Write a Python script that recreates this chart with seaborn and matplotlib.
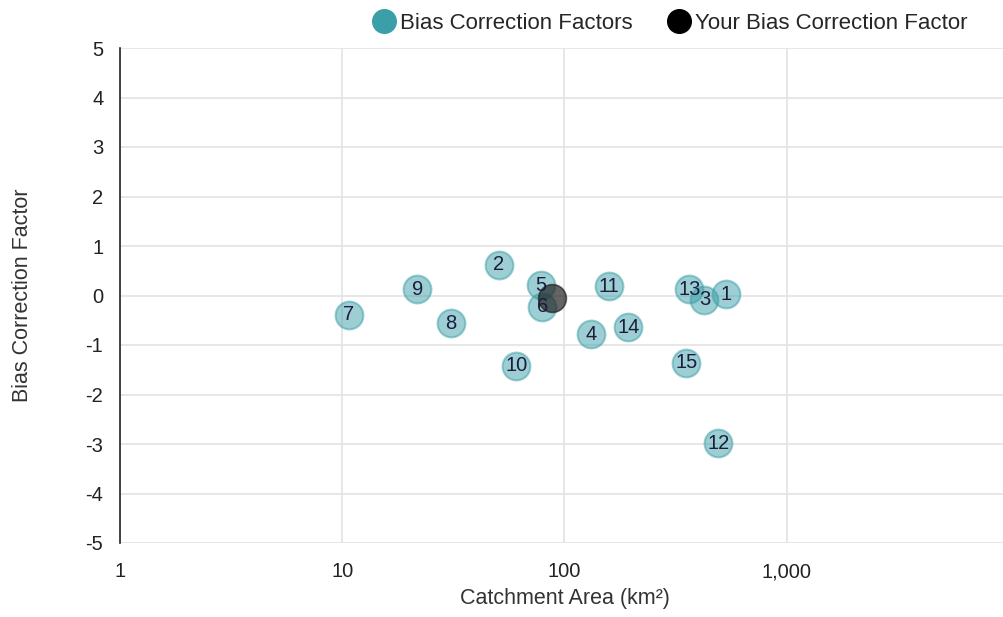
import numpy as np
import pandas as pd
import matplotlib
matplotlib.use('Agg')
import matplotlib.pyplot as plt
import seaborn as sns
from matplotlib.ticker import FuncFormatter, FixedLocator

# Catchment data
site_ids = ['1', '2', '3', '4', '5', '6', '7', '8', '9', '10', '11', '12', '13', '14', '15']
catchment_area = [535, 50.5, 426, 132, 78, 79.6, 10.7, 30.7, 21.8, 60.8, 159, 492, 365, 194, 353]
bias_factor = [0.03, 0.62, -0.09, -0.78, 0.21, -0.23, -0.39, -0.56, 0.13, -1.42, 0.19, -2.98, 0.13, -0.64, -1.36]

your_area = [87.5]
your_bias = [-0.05]

x_ticks = [1, 10, 100, 1000]
y_ticks = list(range(-5, 6))

sns.set_style('white')
plt.rcParams['font.family'] = ['Liberation Sans', 'DejaVu Sans']

df = pd.DataFrame({'site': site_ids, 'area': catchment_area, 'bias': bias_factor})
you = pd.DataFrame({'area': your_area, 'bias': your_bias})

fig = plt.figure(figsize=(10.04, 6.17), dpi=100)
# right edge sits just past the figure so the decades match the original spacing
ax = fig.add_axes([120 / 1004, 1 - 543 / 617, (1009 - 120) / 1004, (543 - 48) / 617])

teal = '#3a9fa8'
sns.scatterplot(data=df, x='area', y='bias', ax=ax, s=400, color=teal, alpha=0.5,
                edgecolor=teal, linewidth=1.5, zorder=3, legend=False)
sns.scatterplot(data=you, x='area', y='bias', ax=ax, s=400, color='#222222', alpha=0.7,
                edgecolor='#222222', linewidth=1.2, zorder=4, legend=False)

for _, r in df.iterrows():
    ax.text(r['area'], r['bias'], r['site'], ha='center', va='center', fontsize=14.5,
            color='#1c1c3c', zorder=5)

ax.set_xscale('log')
ax.set_xlim(1, 10000)
ax.set_ylim(-5, 5)
ax.xaxis.set_major_locator(FixedLocator(x_ticks))
ax.xaxis.set_minor_locator(FixedLocator([]))
ax.xaxis.set_major_formatter(FuncFormatter(lambda v, p: f'{int(v):,}'))
ax.set_yticks(y_ticks)
ax.yaxis.set_major_formatter(FuncFormatter(lambda v, p: f'{int(v)}'))

ax.grid(True, color='#e3e3e3', linewidth=1.2)
ax.set_axisbelow(True)
for s in ['top', 'right', 'bottom']:
    ax.spines[s].set_visible(False)
ax.spines['left'].set_color('#222222')
ax.spines['left'].set_linewidth(1.2)
ax.tick_params(axis='both', length=0, labelsize=14.5, colors='#222222')
ax.tick_params(axis='x', pad=14)
ax.tick_params(axis='y', pad=12)

ax.set_xlabel('Catchment Area (km²)', fontsize=15.5, color='#333333', labelpad=5)
ax.set_ylabel('Bias Correction Factor', fontsize=15.5, color='#333333', labelpad=38)

handles = [
    plt.Line2D([], [], marker='o', linestyle='', markersize=17, color=teal),
    plt.Line2D([], [], marker='o', linestyle='', markersize=17, color='black'),
]
fig.legend(handles, ['Bias Correction Factors', 'Your Bias Correction Factor'],
           loc='upper center', bbox_to_anchor=(668 / 1004, 1.012), ncol=2, frameon=False,
           fontsize=16, handletextpad=0.0, columnspacing=1.4, handlelength=1.4)

fig.savefig('out.png', dpi=100)
